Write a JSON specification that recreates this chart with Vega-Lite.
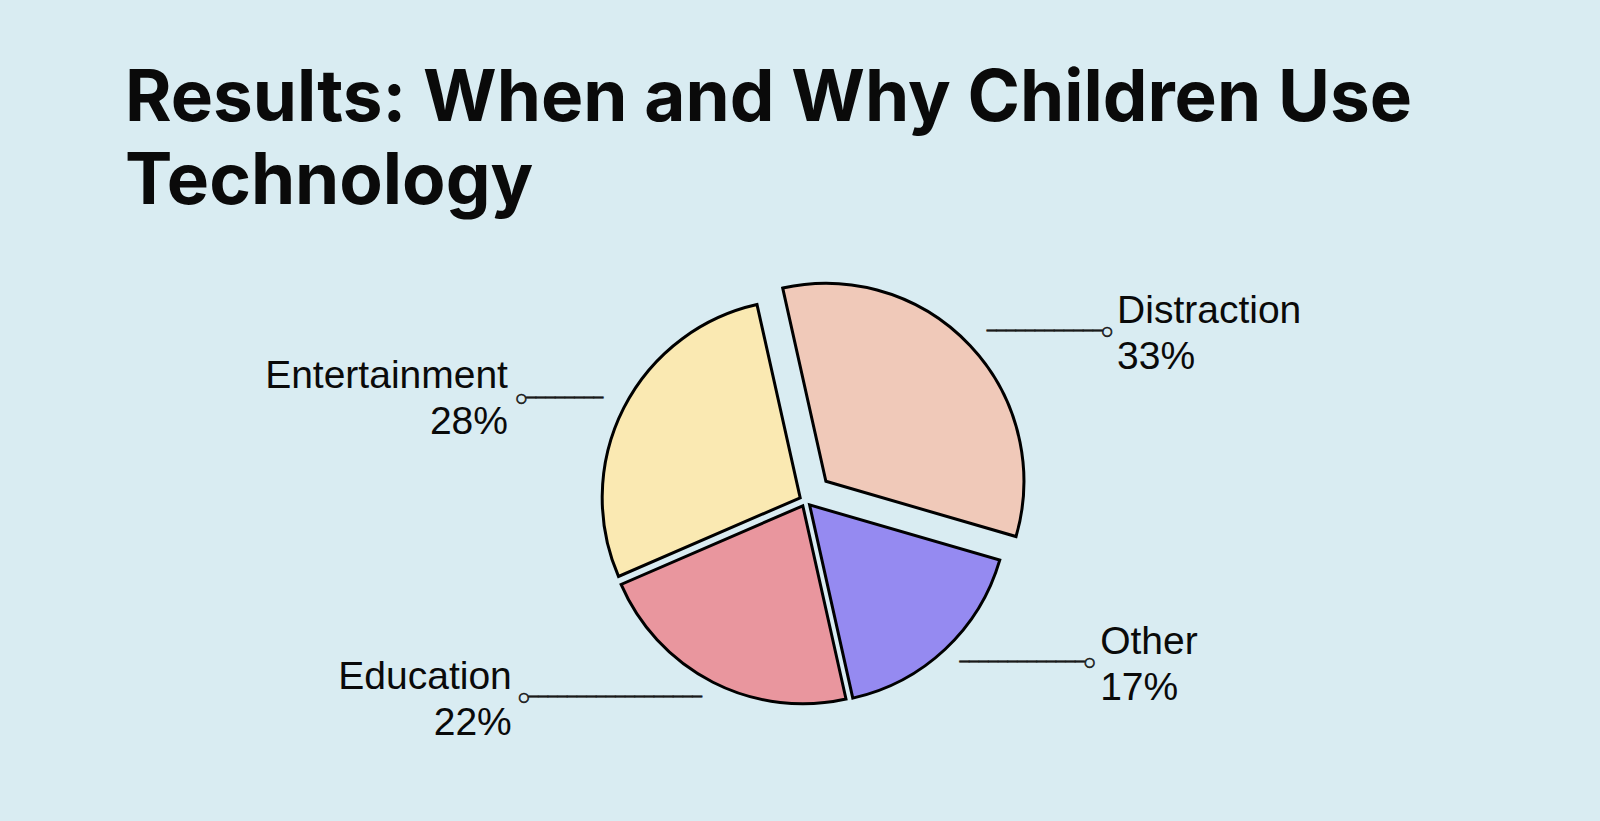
{
  "$schema": "https://vega.github.io/schema/vega-lite/v6.json",
  "width": 1589,
  "height": 551,
  "autosize": {"type": "none"},
  "padding": {"left": 11, "top": 225, "right": 0, "bottom": 45},
  "background": "#d9ecf2",
  "config": {"view": {"stroke": null}},
  "title": {
    "text": ["Results: When and Why Children Use", "Technology"],
    "anchor": "start",
    "frame": "group",
    "font": "Inter",
    "fontSize": 71,
    "fontWeight": 700,
    "color": "#0a0a0a",
    "lineHeight": 83,
    "baseline": "bottom",
    "offset": 4,
    "dx": 114,
    "dy": 69
  },
  "data": {
    "values": [
      {"category": "Distraction", "share": 0.33},
      {"category": "Entertainment", "share": 0.28},
      {"category": "Education", "share": 0.22},
      {"category": "Other", "share": 0.17}
    ]
  },
  "encoding": {
    "theta": {
      "field": "share", "type": "quantitative", "stack": true,
      "scale": {"domain": [0, 1], "range": [1.8535, 8.1367]}
    },
    "order": {"field": "share", "type": "quantitative", "sort": "ascending"}
  },
  "layer": [
    {
      "encoding": {
        "opacity": {"condition": {"test": "datum.category === 'Distraction'", "value": 1}, "value": 0}
      },
      "layer": [
        {
          "mark": {"type": "arc", "outerRadius": 198, "stroke": "#000", "strokeWidth": 3, "xOffset": 20.4, "yOffset": -19.2},
          "encoding": {
            "color": {"field": "category", "type": "nominal", "legend": null,
              "scale": {"domain": ["Distraction", "Entertainment", "Education", "Other"],
                        "range": ["#f0c9b9", "#fae9b2", "#e9969e", "#958af1"]}}
          }
        },
        {
          "mark": {"type": "text", "radius": 217, "font": "DejaVu Sans Mono", "fontSize": 16, "align": "left", "baseline": "middle",
                   "dx": 23, "dy": -20.6, "text": "────────────○", "color": "#1a1a1a", "stroke": "#1a1a1a", "strokeWidth": 0.6}
        },
        {
          "mark": {"type": "text", "radius": 217, "font": "Liberation Sans", "fontSize": 39, "align": "left", "baseline": "alphabetic",
                   "dx": 153.4, "dy": -28.9, "color": "#0a0a0a"},
          "encoding": {"text": {"field": "category", "type": "nominal"}}
        },
        {
          "mark": {"type": "text", "radius": 217, "font": "Liberation Sans", "fontSize": 39, "align": "left", "baseline": "alphabetic",
                   "dx": 153.4, "dy": 16.7, "color": "#0a0a0a"},
          "encoding": {"text": {"field": "share", "type": "quantitative", "format": ".0%"}}
        }
      ]
    },
    {
      "encoding": {
        "opacity": {"condition": {"test": "datum.category === 'Other'", "value": 1}, "value": 0}
      },
      "layer": [
        {
          "mark": {"type": "arc", "outerRadius": 198, "stroke": "#000", "strokeWidth": 3, "xOffset": 4.1, "yOffset": 4.4},
          "encoding": {
            "color": {"field": "category", "type": "nominal", "legend": null}
          }
        },
        {
          "mark": {"type": "text", "radius": 217, "font": "DejaVu Sans Mono", "fontSize": 16, "align": "left", "baseline": "middle",
                   "dx": 5.4, "dy": 3.8, "text": "─────────────○", "color": "#1a1a1a", "stroke": "#1a1a1a", "strokeWidth": 0.6}
        },
        {
          "mark": {"type": "text", "radius": 217, "font": "Liberation Sans", "fontSize": 39, "align": "left", "baseline": "alphabetic",
                   "dx": 146.1, "dy": -4.9, "color": "#0a0a0a"},
          "encoding": {"text": {"field": "category", "type": "nominal"}}
        },
        {
          "mark": {"type": "text", "radius": 217, "font": "Liberation Sans", "fontSize": 39, "align": "left", "baseline": "alphabetic",
                   "dx": 146.1, "dy": 41.1, "color": "#0a0a0a"},
          "encoding": {"text": {"field": "share", "type": "quantitative", "format": ".0%"}}
        }
      ]
    },
    {
      "encoding": {
        "opacity": {"condition": {"test": "datum.category === 'Education'", "value": 1}, "value": 0}
      },
      "layer": [
        {
          "mark": {"type": "arc", "outerRadius": 198, "stroke": "#000", "strokeWidth": 3, "xOffset": -2.7, "yOffset": 5.3},
          "encoding": {
            "color": {"field": "category", "type": "nominal", "legend": null}
          }
        },
        {
          "mark": {"type": "text", "radius": 217, "font": "DejaVu Sans Mono", "fontSize": 16, "align": "right", "baseline": "middle",
                   "dx": -5.0, "dy": 3.5, "text": "○──────────────────", "color": "#1a1a1a", "stroke": "#1a1a1a", "strokeWidth": 0.6}
        },
        {
          "mark": {"type": "text", "radius": 217, "font": "Liberation Sans", "fontSize": 39, "align": "right", "baseline": "alphabetic",
                   "dx": -195.2, "dy": -5.2, "color": "#0a0a0a"},
          "encoding": {"text": {"field": "category", "type": "nominal"}}
        },
        {
          "mark": {"type": "text", "radius": 217, "font": "Liberation Sans", "fontSize": 39, "align": "right", "baseline": "alphabetic",
                   "dx": -195.2, "dy": 40.8, "color": "#0a0a0a"},
          "encoding": {"text": {"field": "share", "type": "quantitative", "format": ".0%"}}
        }
      ]
    },
    {
      "encoding": {
        "opacity": {"condition": {"test": "datum.category === 'Entertainment'", "value": 1}, "value": 0}
      },
      "layer": [
        {
          "mark": {"type": "arc", "outerRadius": 198, "stroke": "#000", "strokeWidth": 3, "xOffset": -5.3, "yOffset": -2.7},
          "encoding": {
            "color": {"field": "category", "type": "nominal", "legend": null}
          }
        },
        {
          "mark": {"type": "text", "radius": 217, "font": "DejaVu Sans Mono", "fontSize": 16, "align": "right", "baseline": "middle",
                   "dx": -8.9, "dy": -4.4, "text": "○────────", "color": "#1a1a1a", "stroke": "#1a1a1a", "strokeWidth": 0.6}
        },
        {
          "mark": {"type": "text", "radius": 217, "font": "Liberation Sans", "fontSize": 39, "align": "right", "baseline": "alphabetic",
                   "dx": -104.2, "dy": -14.4, "color": "#0a0a0a"},
          "encoding": {"text": {"field": "category", "type": "nominal"}}
        },
        {
          "mark": {"type": "text", "radius": 217, "font": "Liberation Sans", "fontSize": 39, "align": "right", "baseline": "alphabetic",
                   "dx": -104.2, "dy": 32.2, "color": "#0a0a0a"},
          "encoding": {"text": {"field": "share", "type": "quantitative", "format": ".0%"}}
        }
      ]
    }
  ]
}
